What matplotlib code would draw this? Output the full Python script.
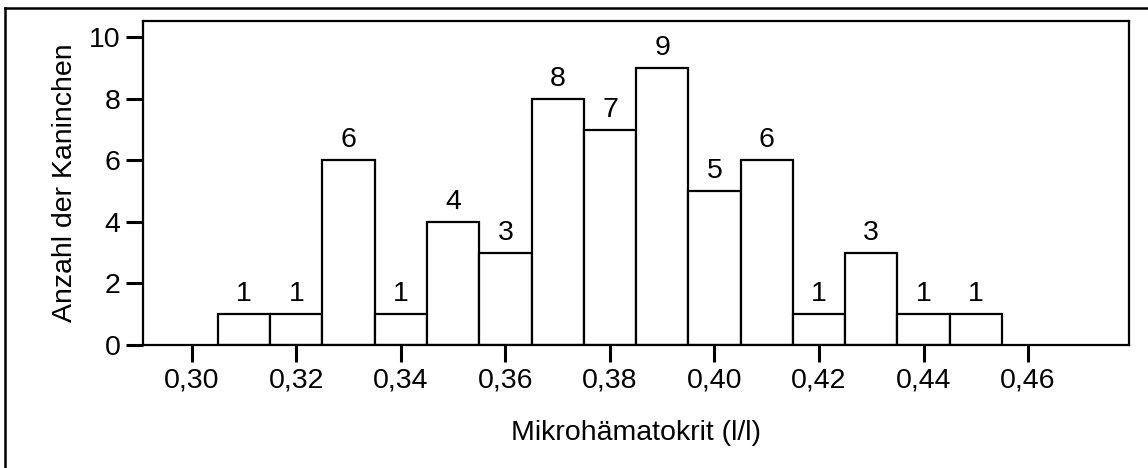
import matplotlib.pyplot as plt
from matplotlib.lines import Line2D

plt.rcParams['font.family'] = ['Liberation Sans', 'DejaVu Sans']

# bin centres (l/l) and number of rabbits per bin
bin_centers = [0.31, 0.32, 0.33, 0.34, 0.35, 0.36, 0.37, 0.38,
               0.39, 0.40, 0.41, 0.42, 0.43, 0.44, 0.45]
counts = [1, 1, 6, 1, 4, 3, 8, 7, 9, 5, 6, 1, 3, 1, 1]
x_ticks = [0.30, 0.32, 0.34, 0.36, 0.38, 0.40, 0.42, 0.44, 0.46]
x_ticklabels = ['0,30', '0,32', '0,34', '0,36', '0,38', '0,40', '0,42', '0,44', '0,46']
y_ticks = [0, 2, 4, 6, 8, 10]

fs = 20.5

fig = plt.figure(figsize=(11.48, 4.68), dpi=100)
ax = fig.add_axes([0.1243, 0.2628, 0.8591, 0.6930])

ax.bar(bin_centers, counts, width=0.01, color='white', edgecolor='black',
       linewidth=1.6, zorder=2)
for x, c in zip(bin_centers, counts):
    ax.annotate(str(c), (x, c), xytext=(0, 5), textcoords='offset points',
                ha='center', va='bottom', fontsize=fs)

ax.set_xlim(0.2906, 0.4793)
ax.set_ylim(0, 10.54)
ax.set_xticks(x_ticks)
ax.set_xticklabels(x_ticklabels)
ax.set_yticks(y_ticks)
ax.tick_params(axis='both', direction='out', length=12, width=2.2,
               labelsize=fs, pad=4)
for s in ax.spines.values():
    s.set_linewidth(1.6)

ax.set_xlabel('Mikrohämatokrit (l/l)', fontsize=fs, labelpad=19)
ax.set_ylabel('Anzahl der Kaninchen', fontsize=fs, labelpad=8)

# frame lines on the left and top of the figure
fig.add_artist(Line2D([5 / 1148, 5 / 1148], [0, 1 - 8 / 468], transform=fig.transFigure,
                      color='black', linewidth=1.8))
fig.add_artist(Line2D([5 / 1148, 1], [1 - 8 / 468, 1 - 8 / 468], transform=fig.transFigure,
                      color='black', linewidth=1.8))

plt.savefig('out.png', dpi=100)
